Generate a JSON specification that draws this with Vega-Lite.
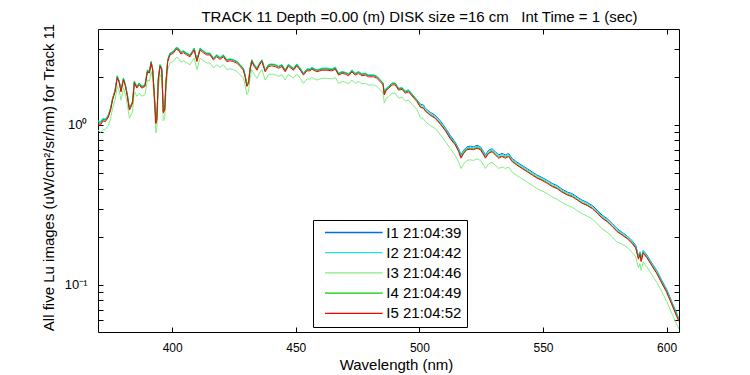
{
"$schema": "https://vega.github.io/schema/vega-lite/v6.json",
"width": 581, "height": 303,
"autosize": "none",
"padding": {"left": 98, "top": 29, "right": 71, "bottom": 43},
"background": "white",
"config": {"view": {"stroke": "black", "strokeWidth": 1}, "font": "Liberation Sans"},
"title": {"text": "TRACK 11 Depth =0.00 (m) DISK size =16 cm\u00a0\u00a0 Int Time = 1 (sec)", "fontSize": 15, "fontWeight": "normal", "anchor": "middle", "dx": 31, "dy": 20, "offset": 3, "baseline": "bottom", "color": "black"},
"data": {"values": [
{"w":370.0,"I1":1.05,"I2":1.06,"I3":0.93,"I4":1.03,"I5":1.00},
{"w":371.0,"I1":1.04,"I2":1.05,"I3":0.90,"I4":1.02,"I5":1.00},
{"w":372.0,"I1":1.09,"I2":1.10,"I3":0.93,"I4":1.08,"I5":1.06},
{"w":373.0,"I1":1.08,"I2":1.09,"I3":0.94,"I4":1.07,"I5":1.05},
{"w":374.2,"I1":1.15,"I2":1.16,"I3":0.99,"I4":1.14,"I5":1.12},
{"w":375.1,"I1":1.27,"I2":1.28,"I3":1.10,"I4":1.26,"I5":1.24},
{"w":375.9,"I1":1.46,"I2":1.47,"I3":1.27,"I4":1.46,"I5":1.43},
{"w":376.9,"I1":1.64,"I2":1.66,"I3":1.43,"I4":1.64,"I5":1.61},
{"w":377.8,"I1":2.01,"I2":2.03,"I3":1.75,"I4":2.01,"I5":1.97},
{"w":378.6,"I1":1.87,"I2":1.88,"I3":1.63,"I4":1.87,"I5":1.83},
{"w":379.3,"I1":1.64,"I2":1.66,"I3":1.43,"I4":1.64,"I5":1.61},
{"w":380.3,"I1":1.95,"I2":1.97,"I3":1.70,"I4":1.95,"I5":1.91},
{"w":381.1,"I1":1.77,"I2":1.79,"I3":1.55,"I4":1.77,"I5":1.74},
{"w":381.9,"I1":1.53,"I2":1.55,"I3":1.34,"I4":1.53,"I5":1.50},
{"w":382.7,"I1":1.26,"I2":1.28,"I3":1.10,"I4":1.26,"I5":1.24},
{"w":383.2,"I1":1.31,"I2":1.32,"I3":1.14,"I4":1.31,"I5":1.28},
{"w":384.0,"I1":1.40,"I2":1.41,"I3":1.22,"I4":1.40,"I5":1.37},
{"w":384.7,"I1":1.87,"I2":1.88,"I3":1.63,"I4":1.87,"I5":1.83},
{"w":385.7,"I1":1.73,"I2":1.75,"I3":1.51,"I4":1.73,"I5":1.70},
{"w":386.7,"I1":1.82,"I2":1.83,"I3":1.58,"I4":1.82,"I5":1.78},
{"w":387.7,"I1":1.73,"I2":1.75,"I3":1.51,"I4":1.73,"I5":1.70},
{"w":389.0,"I1":1.77,"I2":1.79,"I3":1.55,"I4":1.77,"I5":1.74},
{"w":390.0,"I1":2.19,"I2":2.21,"I3":1.91,"I4":2.19,"I5":2.15},
{"w":390.8,"I1":2.15,"I2":2.17,"I3":1.88,"I4":2.15,"I5":2.11},
{"w":391.5,"I1":2.48,"I2":2.50,"I3":2.16,"I4":2.48,"I5":2.43},
{"w":392.1,"I1":2.24,"I2":2.27,"I3":1.96,"I4":2.24,"I5":2.20},
{"w":392.8,"I1":1.53,"I2":1.55,"I3":1.34,"I4":1.53,"I5":1.50},
{"w":393.4,"I1":1.04,"I2":1.05,"I3":0.89,"I4":1.04,"I5":1.02},
{"w":393.8,"I1":1.09,"I2":1.10,"I3":0.95,"I4":1.09,"I5":1.07},
{"w":394.4,"I1":1.95,"I2":1.97,"I3":1.70,"I4":1.95,"I5":1.91},
{"w":395.1,"I1":2.37,"I2":2.39,"I3":2.06,"I4":2.37,"I5":2.32},
{"w":395.8,"I1":2.24,"I2":2.27,"I3":1.96,"I4":2.24,"I5":2.20},
{"w":396.4,"I1":1.21,"I2":1.23,"I3":1.06,"I4":1.21,"I5":1.19},
{"w":397.0,"I1":1.26,"I2":1.28,"I3":1.10,"I4":1.26,"I5":1.24},
{"w":397.5,"I1":1.86,"I2":1.87,"I3":1.62,"I4":1.86,"I5":1.82},
{"w":398.2,"I1":2.54,"I2":2.56,"I3":2.22,"I4":2.54,"I5":2.49},
{"w":399.1,"I1":2.79,"I2":2.82,"I3":2.44,"I4":2.79,"I5":2.74},
{"w":400.5,"I1":2.87,"I2":2.89,"I3":2.50,"I4":2.87,"I5":2.81},
{"w":401.6,"I1":3.03,"I2":3.06,"I3":2.64,"I4":3.03,"I5":2.97},
{"w":402.5,"I1":3.00,"I2":3.03,"I3":2.62,"I4":3.00,"I5":2.94},
{"w":403.5,"I1":2.84,"I2":2.86,"I3":2.47,"I4":2.84,"I5":2.78},
{"w":404.5,"I1":2.89,"I2":2.91,"I3":2.52,"I4":2.89,"I5":2.83},
{"w":405.9,"I1":2.79,"I2":2.82,"I3":2.44,"I4":2.79,"I5":2.74},
{"w":407.2,"I1":2.72,"I2":2.75,"I3":2.38,"I4":2.72,"I5":2.67},
{"w":408.9,"I1":3.00,"I2":3.03,"I3":2.62,"I4":3.00,"I5":2.94},
{"w":410.0,"I1":2.54,"I2":2.56,"I3":2.22,"I4":2.54,"I5":2.49},
{"w":411.3,"I1":3.00,"I2":3.03,"I3":2.62,"I4":3.00,"I5":2.94},
{"w":412.6,"I1":2.89,"I2":2.91,"I3":2.52,"I4":2.89,"I5":2.83},
{"w":414.0,"I1":2.79,"I2":2.82,"I3":2.44,"I4":2.79,"I5":2.74},
{"w":415.3,"I1":2.79,"I2":2.82,"I3":2.44,"I4":2.79,"I5":2.74},
{"w":416.7,"I1":2.60,"I2":2.63,"I3":2.27,"I4":2.60,"I5":2.55},
{"w":418.0,"I1":2.72,"I2":2.75,"I3":2.38,"I4":2.72,"I5":2.67},
{"w":419.4,"I1":2.62,"I2":2.65,"I3":2.29,"I4":2.62,"I5":2.57},
{"w":420.7,"I1":2.72,"I2":2.75,"I3":2.38,"I4":2.72,"I5":2.67},
{"w":422.1,"I1":2.54,"I2":2.56,"I3":2.22,"I4":2.54,"I5":2.49},
{"w":423.4,"I1":2.57,"I2":2.60,"I3":2.24,"I4":2.57,"I5":2.52},
{"w":424.8,"I1":2.54,"I2":2.56,"I3":2.22,"I4":2.54,"I5":2.49},
{"w":426.2,"I1":2.48,"I2":2.50,"I3":2.16,"I4":2.48,"I5":2.43},
{"w":427.5,"I1":2.37,"I2":2.39,"I3":2.06,"I4":2.37,"I5":2.32},
{"w":428.8,"I1":2.24,"I2":2.27,"I3":1.96,"I4":2.24,"I5":2.20},
{"w":429.5,"I1":2.04,"I2":2.06,"I3":1.78,"I4":2.04,"I5":2.00},
{"w":430.2,"I1":1.77,"I2":1.79,"I3":1.55,"I4":1.77,"I5":1.74},
{"w":430.9,"I1":1.86,"I2":1.87,"I3":1.62,"I4":1.86,"I5":1.82},
{"w":431.5,"I1":2.24,"I2":2.27,"I3":1.96,"I4":2.24,"I5":2.20},
{"w":432.2,"I1":2.54,"I2":2.56,"I3":2.22,"I4":2.54,"I5":2.49},
{"w":433.2,"I1":2.37,"I2":2.39,"I3":2.06,"I4":2.37,"I5":2.32},
{"w":434.3,"I1":2.24,"I2":2.27,"I3":1.96,"I4":2.24,"I5":2.20},
{"w":435.3,"I1":2.42,"I2":2.44,"I3":2.11,"I4":2.42,"I5":2.37},
{"w":436.3,"I1":2.54,"I2":2.56,"I3":2.22,"I4":2.54,"I5":2.49},
{"w":437.6,"I1":2.19,"I2":2.21,"I3":1.91,"I4":2.19,"I5":2.15},
{"w":439.0,"I1":2.37,"I2":2.39,"I3":2.06,"I4":2.37,"I5":2.32},
{"w":440.3,"I1":2.39,"I2":2.41,"I3":2.08,"I4":2.39,"I5":2.34},
{"w":441.7,"I1":2.37,"I2":2.39,"I3":2.06,"I4":2.37,"I5":2.32},
{"w":443.0,"I1":2.31,"I2":2.33,"I3":2.01,"I4":2.31,"I5":2.26},
{"w":444.4,"I1":2.37,"I2":2.39,"I3":2.06,"I4":2.37,"I5":2.32},
{"w":445.7,"I1":2.19,"I2":2.21,"I3":1.91,"I4":2.19,"I5":2.15},
{"w":447.0,"I1":2.38,"I2":2.40,"I3":2.07,"I4":2.38,"I5":2.33},
{"w":449.1,"I1":2.24,"I2":2.27,"I3":1.96,"I4":2.24,"I5":2.20},
{"w":450.4,"I1":2.39,"I2":2.41,"I3":2.08,"I4":2.39,"I5":2.34},
{"w":451.8,"I1":2.24,"I2":2.27,"I3":1.96,"I4":2.24,"I5":2.20},
{"w":453.1,"I1":2.09,"I2":2.11,"I3":1.82,"I4":2.09,"I5":2.05},
{"w":454.5,"I1":2.22,"I2":2.25,"I3":1.94,"I4":2.22,"I5":2.18},
{"w":455.8,"I1":2.22,"I2":2.25,"I3":1.94,"I4":2.22,"I5":2.18},
{"w":456.5,"I1":2.27,"I2":2.30,"I3":1.98,"I4":2.27,"I5":2.23},
{"w":458.5,"I1":2.19,"I2":2.21,"I3":1.91,"I4":2.19,"I5":2.15},
{"w":460.6,"I1":2.24,"I2":2.27,"I3":1.96,"I4":2.24,"I5":2.20},
{"w":462.6,"I1":2.24,"I2":2.27,"I3":1.96,"I4":2.24,"I5":2.20},
{"w":464.6,"I1":2.22,"I2":2.25,"I3":1.94,"I4":2.22,"I5":2.18},
{"w":466.0,"I1":2.27,"I2":2.30,"I3":1.98,"I4":2.27,"I5":2.23},
{"w":467.3,"I1":2.09,"I2":2.11,"I3":1.82,"I4":2.09,"I5":2.05},
{"w":468.7,"I1":2.14,"I2":2.16,"I3":1.87,"I4":2.14,"I5":2.10},
{"w":470.0,"I1":2.12,"I2":2.14,"I3":1.85,"I4":2.12,"I5":2.08},
{"w":471.4,"I1":2.07,"I2":2.09,"I3":1.81,"I4":2.07,"I5":2.03},
{"w":472.7,"I1":2.19,"I2":2.21,"I3":1.91,"I4":2.19,"I5":2.15},
{"w":474.0,"I1":2.09,"I2":2.11,"I3":1.82,"I4":2.09,"I5":2.05},
{"w":475.4,"I1":2.14,"I2":2.16,"I3":1.87,"I4":2.14,"I5":2.10},
{"w":476.7,"I1":2.07,"I2":2.09,"I3":1.81,"I4":2.07,"I5":2.03},
{"w":478.1,"I1":2.09,"I2":2.11,"I3":1.82,"I4":2.09,"I5":2.05},
{"w":479.4,"I1":2.04,"I2":2.06,"I3":1.78,"I4":2.04,"I5":2.00},
{"w":481.5,"I1":2.04,"I2":2.06,"I3":1.78,"I4":2.04,"I5":2.00},
{"w":482.8,"I1":2.00,"I2":2.02,"I3":1.74,"I4":2.00,"I5":1.96},
{"w":484.2,"I1":1.90,"I2":1.92,"I3":1.66,"I4":1.90,"I5":1.86},
{"w":485.3,"I1":1.82,"I2":1.83,"I3":1.58,"I4":1.82,"I5":1.78},
{"w":485.8,"I1":1.57,"I2":1.59,"I3":1.37,"I4":1.57,"I5":1.54},
{"w":486.6,"I1":1.68,"I2":1.70,"I3":1.47,"I4":1.68,"I5":1.65},
{"w":487.5,"I1":1.72,"I2":1.74,"I3":1.50,"I4":1.72,"I5":1.69},
{"w":488.9,"I1":1.82,"I2":1.83,"I3":1.58,"I4":1.82,"I5":1.78},
{"w":490.2,"I1":1.82,"I2":1.83,"I3":1.58,"I4":1.82,"I5":1.78},
{"w":491.6,"I1":1.68,"I2":1.70,"I3":1.47,"I4":1.68,"I5":1.65},
{"w":493.0,"I1":1.70,"I2":1.72,"I3":1.49,"I4":1.70,"I5":1.67},
{"w":494.3,"I1":1.61,"I2":1.63,"I3":1.41,"I4":1.61,"I5":1.58},
{"w":495.6,"I1":1.64,"I2":1.66,"I3":1.43,"I4":1.64,"I5":1.61},
{"w":497.0,"I1":1.55,"I2":1.57,"I3":1.35,"I4":1.55,"I5":1.52},
{"w":499.0,"I1":1.43,"I2":1.44,"I3":1.25,"I4":1.43,"I5":1.40},
{"w":500.4,"I1":1.35,"I2":1.33,"I3":1.11,"I4":1.30,"I5":1.29},
{"w":501.7,"I1":1.33,"I2":1.31,"I3":1.09,"I4":1.28,"I5":1.27},
{"w":502.4,"I1":1.27,"I2":1.26,"I3":1.05,"I4":1.23,"I5":1.22},
{"w":504.4,"I1":1.20,"I2":1.18,"I3":0.99,"I4":1.16,"I5":1.15},
{"w":506.4,"I1":1.15,"I2":1.13,"I3":0.95,"I4":1.11,"I5":1.10},
{"w":508.5,"I1":1.06,"I2":1.04,"I3":0.87,"I4":1.02,"I5":1.01},
{"w":510.5,"I1":0.96,"I2":0.95,"I3":0.79,"I4":0.93,"I5":0.92},
{"w":512.5,"I1":0.86,"I2":0.84,"I3":0.71,"I4":0.83,"I5":0.82},
{"w":514.5,"I1":0.78,"I2":0.77,"I3":0.645,"I4":0.76,"I5":0.75},
{"w":515.9,"I1":0.71,"I2":0.70,"I3":0.585,"I4":0.69,"I5":0.68},
{"w":516.8,"I1":0.65,"I2":0.64,"I3":0.535,"I4":0.63,"I5":0.62},
{"w":517.9,"I1":0.695,"I2":0.685,"I3":0.57,"I4":0.67,"I5":0.665},
{"w":519.2,"I1":0.73,"I2":0.72,"I3":0.60,"I4":0.71,"I5":0.70},
{"w":520.6,"I1":0.737,"I2":0.726,"I3":0.606,"I4":0.712,"I5":0.705},
{"w":521.9,"I1":0.73,"I2":0.72,"I3":0.60,"I4":0.71,"I5":0.70},
{"w":523.3,"I1":0.747,"I2":0.736,"I3":0.615,"I4":0.722,"I5":0.715},
{"w":524.7,"I1":0.73,"I2":0.72,"I3":0.60,"I4":0.71,"I5":0.70},
{"w":526.0,"I1":0.68,"I2":0.67,"I3":0.56,"I4":0.656,"I5":0.65},
{"w":526.7,"I1":0.65,"I2":0.64,"I3":0.535,"I4":0.63,"I5":0.62},
{"w":528.0,"I1":0.695,"I2":0.685,"I3":0.57,"I4":0.67,"I5":0.665},
{"w":529.4,"I1":0.71,"I2":0.70,"I3":0.585,"I4":0.69,"I5":0.68},
{"w":530.7,"I1":0.68,"I2":0.67,"I3":0.56,"I4":0.656,"I5":0.65},
{"w":532.1,"I1":0.65,"I2":0.64,"I3":0.535,"I4":0.63,"I5":0.62},
{"w":533.4,"I1":0.664,"I2":0.654,"I3":0.546,"I4":0.641,"I5":0.635},
{"w":534.8,"I1":0.65,"I2":0.64,"I3":0.535,"I4":0.63,"I5":0.62},
{"w":536.1,"I1":0.664,"I2":0.654,"I3":0.546,"I4":0.641,"I5":0.635},
{"w":537.5,"I1":0.617,"I2":0.608,"I3":0.507,"I4":0.596,"I5":0.59},
{"w":539.5,"I1":0.585,"I2":0.577,"I3":0.482,"I4":0.566,"I5":0.56},
{"w":541.5,"I1":0.559,"I2":0.551,"I3":0.46,"I4":0.54,"I5":0.535},
{"w":543.6,"I1":0.533,"I2":0.525,"I3":0.439,"I4":0.515,"I5":0.51},
{"w":545.6,"I1":0.509,"I2":0.502,"I3":0.419,"I4":0.492,"I5":0.487},
{"w":547.6,"I1":0.486,"I2":0.479,"I3":0.40,"I4":0.47,"I5":0.465},
{"w":549.6,"I1":0.47,"I2":0.464,"I3":0.387,"I4":0.455,"I5":0.45},
{"w":551.7,"I1":0.451,"I2":0.445,"I3":0.372,"I4":0.436,"I5":0.432},
{"w":553.7,"I1":0.431,"I2":0.424,"I3":0.354,"I4":0.416,"I5":0.412},
{"w":555.7,"I1":0.418,"I2":0.412,"I3":0.344,"I4":0.404,"I5":0.40},
{"w":557.7,"I1":0.397,"I2":0.391,"I3":0.327,"I4":0.384,"I5":0.38},
{"w":559.8,"I1":0.381,"I2":0.376,"I3":0.314,"I4":0.369,"I5":0.365},
{"w":561.8,"I1":0.372,"I2":0.367,"I3":0.306,"I4":0.36,"I5":0.356},
{"w":563.8,"I1":0.355,"I2":0.35,"I3":0.292,"I4":0.343,"I5":0.34},
{"w":565.8,"I1":0.339,"I2":0.334,"I3":0.279,"I4":0.327,"I5":0.324},
{"w":567.8,"I1":0.328,"I2":0.323,"I3":0.27,"I4":0.317,"I5":0.314},
{"w":569.9,"I1":0.314,"I2":0.309,"I3":0.258,"I4":0.303,"I5":0.30},
{"w":571.9,"I1":0.294,"I2":0.289,"I3":0.242,"I4":0.284,"I5":0.281},
{"w":573.9,"I1":0.273,"I2":0.269,"I3":0.224,"I4":0.264,"I5":0.261},
{"w":575.9,"I1":0.26,"I2":0.256,"I3":0.214,"I4":0.251,"I5":0.249},
{"w":578.0,"I1":0.242,"I2":0.239,"I3":0.20,"I4":0.234,"I5":0.232},
{"w":580.0,"I1":0.225,"I2":0.221,"I3":0.185,"I4":0.217,"I5":0.215},
{"w":582.0,"I1":0.213,"I2":0.211,"I3":0.18,"I4":0.207,"I5":0.205},
{"w":584.0,"I1":0.203,"I2":0.201,"I3":0.172,"I4":0.197,"I5":0.195},
{"w":586.0,"I1":0.189,"I2":0.187,"I3":0.16,"I4":0.184,"I5":0.182},
{"w":587.5,"I1":0.177,"I2":0.175,"I3":0.15,"I4":0.172,"I5":0.17},
{"w":588.6,"I1":0.151,"I2":0.149,"I3":0.128,"I4":0.146,"I5":0.145},
{"w":589.2,"I1":0.161,"I2":0.16,"I3":0.136,"I4":0.157,"I5":0.155},
{"w":589.7,"I1":0.146,"I2":0.144,"I3":0.123,"I4":0.141,"I5":0.14},
{"w":590.5,"I1":0.164,"I2":0.163,"I3":0.139,"I4":0.16,"I5":0.158},
{"w":592.0,"I1":0.154,"I2":0.152,"I3":0.13,"I4":0.149,"I5":0.148},
{"w":594.0,"I1":0.137,"I2":0.136,"I3":0.116,"I4":0.133,"I5":0.132},
{"w":596.0,"I1":0.123,"I2":0.122,"I3":0.104,"I4":0.119,"I5":0.118},
{"w":598.0,"I1":0.107,"I2":0.106,"I3":0.091,"I4":0.104,"I5":0.103},
{"w":600.0,"I1":0.094,"I2":0.093,"I3":0.079,"I4":0.091,"I5":0.09},
{"w":602.0,"I1":0.079,"I2":0.078,"I3":0.067,"I4":0.077,"I5":0.076},
{"w":604.0,"I1":0.067,"I2":0.066,"I3":0.057,"I4":0.065,"I5":0.064},
{"w":605.0,"I1":0.061,"I2":0.061,"I3":0.053,"I4":0.06,"I5":0.059}
]},
"transform": [{"fold": ["I1", "I2", "I3", "I4", "I5"], "as": ["series", "value"]}],
"layer": [
 {"mark": {"type": "line", "strokeWidth": 1, "clip": true},
  "encoding": {
   "x": {"field": "w", "type": "quantitative", "scale": {"domain": [370, 605], "nice": false, "zero": false},
     "axis": {"values": [400, 450, 500, 550, 600], "tickSize": -5, "tickColor": "black", "domain": false, "grid": false, "labelFontSize": 12, "labelColor": "black", "labelPadding": 15, "title": "Wavelength (nm)", "titleFontSize": 15, "titleFontWeight": "normal", "titleColor": "black", "titleX": 298, "titleY": 37, "titleBaseline": "alphabetic", "titleAlign": "center"}},
   "y": {"field": "value", "type": "quantitative", "scale": {"type": "log", "domain": [0.0508, 3.98], "nice": false},
     "axis": {"values": [0.06, 0.07, 0.08, 0.09, 0.1, 0.2, 0.3, 0.4, 0.5, 0.6, 0.7, 0.8, 0.9, 1, 2, 3], "labelExpr": "datum.value == 1 ? '10⁰' : (datum.value == 0.1 ? '10⁻¹' : '')", "tickSize": -5, "tickColor": "black", "domain": false, "grid": false, "labelFontSize": 13, "labelColor": "black", "labelPadding": 16, "title": "All five Lu images (uW/cm²/sr/nm) for Track 11", "titleFontSize": 15, "titleFontWeight": "normal", "titleColor": "black", "titleX": -45, "titleY": 148, "titleAngle": -90, "titleBaseline": "alphabetic", "titleAlign": "center"}},
   "color": {"field": "series", "type": "nominal",
     "scale": {"domain": ["I1", "I2", "I3", "I4", "I5"], "range": ["#0070E0", "#20E0F0", "#80F080", "#00D000", "#FF0000"]},
     "legend": {"orient": "none", "legendX": 215, "legendY": 191, "title": null, "fillColor": "white", "strokeColor": "black", "padding": 5, "rowPadding": 4.2, "symbolType": "M-6.4,0H6.4", "symbolSize": 81, "symbolOffset": 28.3, "symbolStrokeWidth": 1.3, "labelFontSize": 15, "labelColor": "black", "labelOffset": 25,
       "labelExpr": "datum.label == 'I1' ? 'I1 21:04:39' : datum.label == 'I2' ? 'I2 21:04:42' : datum.label == 'I3' ? 'I3 21:04:46' : datum.label == 'I4' ? 'I4 21:04:49' : 'I5 21:04:52'"}}
  }},
 {"mark": {"type": "line", "opacity": 0},
  "encoding": {
   "x": {"field": "w", "type": "quantitative", "axis": {"orient": "top", "values": [400, 450, 500, 550, 600], "tickSize": -5, "tickColor": "black", "domain": false, "grid": false, "labels": false, "title": null, "minExtent": 0, "maxExtent": 0}},
   "y": {"field": "value", "type": "quantitative", "axis": {"orient": "right", "values": [0.06, 0.07, 0.08, 0.09, 0.1, 0.2, 0.3, 0.4, 0.5, 0.6, 0.7, 0.8, 0.9, 1, 2, 3], "tickSize": -5, "tickColor": "black", "domain": false, "grid": false, "labels": false, "title": null, "minExtent": 0, "maxExtent": 0}},
   "detail": {"field": "series"}
  }}
],
"resolve": {"axis": {"x": "independent", "y": "independent"}}
}
